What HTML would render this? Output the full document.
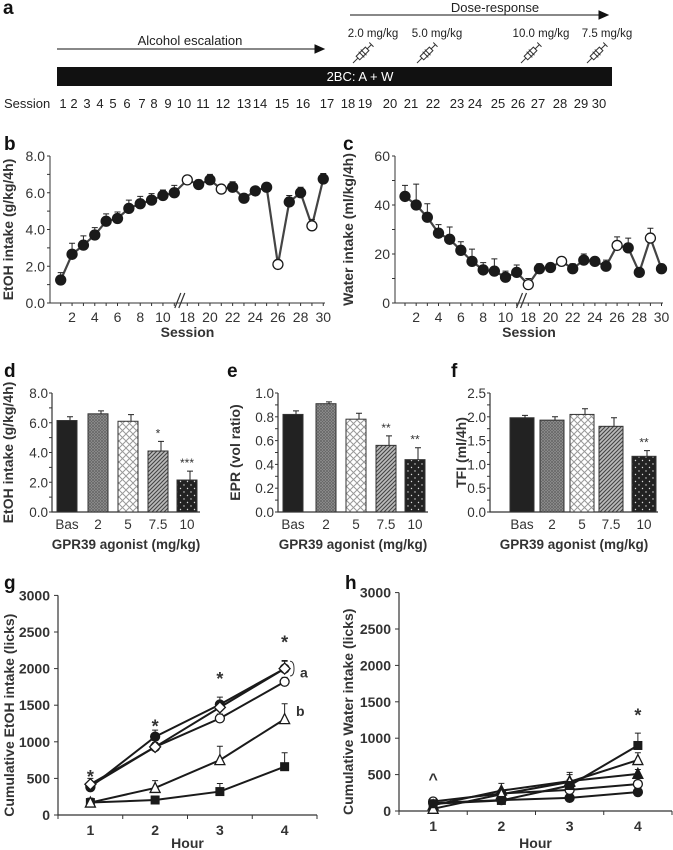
<!DOCTYPE html>
<html><head><meta charset="utf-8">
<style>
html,body{margin:0;padding:0;background:#fff;}
svg{display:block;font-family:"Liberation Sans",Arial,sans-serif;}
.t{font-size:12.5px;fill:#222;}
.b{font-weight:bold;}
</style></head>
<body>
<svg id="fig" width="673" height="850" viewBox="0 0 673 850">
<defs>
<pattern id="pGray" width="3" height="3" patternUnits="userSpaceOnUse"><rect width="3" height="3" fill="#9a9a9a"/><path d="M0 0L3 3M3 0L0 3" stroke="#666" stroke-width="0.8"/></pattern>
<pattern id="pDiamond" width="7" height="7" patternUnits="userSpaceOnUse"><rect width="7" height="7" fill="#fff"/><path d="M0 0L7 7M7 0L0 7" stroke="#999" stroke-width="1"/></pattern>
<pattern id="pHatch" width="4" height="4" patternUnits="userSpaceOnUse"><rect width="4" height="4" fill="#bbb"/><path d="M0 4L4 0M-1 1L1 -1M3 5L5 3" stroke="#444" stroke-width="1.1"/></pattern>
<pattern id="pDots" width="7" height="7" patternUnits="userSpaceOnUse"><rect width="7" height="7" fill="#222"/><circle cx="2" cy="2" r="0.7" fill="#ddd"/><circle cx="5.5" cy="5.5" r="0.7" fill="#ddd"/></pattern>
</defs>
<g id="root"></g>
</svg>
<script>
// ---------- Panel a data ----------
const sessionLabels = ["1","2","3","4","5","6","7","8","9","10","11","12","13","14","15","16","17","18","19","20","21","22","23","24","25","26","27","28","29","30"];
const sessionX = [63,74,87,100,113,127,142,154,168,184,203,223,244,260,282,303,327,348,365,390,411,433,457,475,498,518,538,560,581,599];
const doseLabels = ["2.0 mg/kg","5.0 mg/kg","10.0 mg/kg","7.5 mg/kg"];
const doseLabelX = [373,437,541,607];

// ---------- Panel b data ----------
const bSessions = [1,2,3,4,5,6,7,8,9,10,11,18,19,20,21,22,23,24,25,26,27,28,29,30];
const bValues = [1.25,2.65,3.15,3.7,4.45,4.6,5.15,5.4,5.6,5.85,6.0,6.7,6.45,6.7,6.2,6.3,5.7,6.1,6.3,2.1,5.5,6.0,4.2,6.75];
const bErrors = [0.4,0.6,0.5,0.4,0.4,0.35,0.45,0.4,0.35,0.3,0.4,0.15,0.25,0.3,0.15,0.3,0.15,0.2,0.15,0.25,0.35,0.3,0.35,0.3];
const bOpen = [18,21,26,29];
const bTicks = [0,2,4,6,8];
const bTickLabels = ["0.0","2.0","4.0","6.0","8.0"];
const bXTicks = [2,4,6,8,10,18,20,22,24,26,28,30];

// ---------- Panel c data ----------
const cValues = [43.5,40,35,28.5,26,21.5,17,13.5,13,10.5,12.5,7.5,14,14.5,17,14,17.5,17,15,23.5,22.5,12.5,26.5,14];
const cErrors = [4.5,8.5,5.5,3.5,5,3.5,5,3,5,2.5,3,2.5,2,1,1.5,2,2.5,1,2.5,3.5,4,1.5,4,1];
const cTicks = [0,20,40,60];

// ---------- Panels d,e,f data ----------
const doseCats = ["Bas","2","5","7.5","10"];
const dValues = [6.15,6.6,6.1,4.1,2.15];
const dErrors = [0.25,0.2,0.45,0.65,0.6];
const dStars = ["","","","*","***"];
const eValues = [0.82,0.91,0.78,0.56,0.44];
const eErrors = [0.03,0.015,0.05,0.08,0.1];
const eStars = ["","","","**","**"];
const fValues = [1.98,1.93,2.05,1.8,1.17];
const fErrors = [0.05,0.07,0.12,0.18,0.12];
const fStars = ["","","","","**"];

// ---------- Panels g,h data ----------
const hours = ["1","2","3","4"];
const gTicks = [0,500,1000,1500,2000,2500,3000];
const gFilledCircle = [380,1070,1510,2000];
const gFilledCircleErr = [50,90,100,110];
const gOpenDiamond = [420,930,1470,2000];
const gOpenDiamondErr = [80,60,80,100];
const gOpenCircle = [400,930,1320,1820];
const gOpenCircleErr = [40,50,60,60];
const gOpenTriangle = [170,370,750,1310];
const gOpenTriangleErr = [60,100,190,210];
const gFilledSquare = [170,205,320,660];
const gFilledSquareErr = [50,30,110,190];
const gStarsY = [560,1250,1900,2400];

const hFilledSquare = [100,145,350,900];
const hFilledSquareErr = [30,40,80,170];
const hOpenTriangle = [30,230,400,700];
const hOpenTriangleErr = [20,60,130,100];
const hFilledTriangle = [80,280,410,510];
const hFilledTriangleErr = [30,100,90,60];
const hOpenCircle = [130,240,290,370];
const hOpenCircleErr = [30,40,50,40];
const hFilledCircle = [110,150,180,260];
const hFilledCircleErr = [20,20,30,30];

const NS = "http://www.w3.org/2000/svg";
const root = document.getElementById("root");
function E(tag, attrs, parent){
  const el = document.createElementNS(NS, tag);
  for (const k in attrs) el.setAttribute(k, attrs[k]);
  (parent||root).appendChild(el);
  return el;
}
function T(x,y,txt,cls,anchor,parent){
  const el = E("text",{x:x,y:y,"class":cls||"t","text-anchor":anchor||"start"},parent);
  el.textContent = txt;
  return el;
}
function letter(x,y,s){
  const el = T(x,y,s,"t b","start");
  el.setAttribute("style","font-size:19px;fill:#111");
  
  
}

// ================= Panel a =================
letter(3,14,"a");
(function(){
  const g = E("g",{});
  
  
  let t = T(495,12,"Dose-response","t","middle",g);
  t.setAttribute("style","font-size:13px");
  
  
  let ar = E("path",{d:"M350 15 L607 15 M599 11 L608 15 L599 19 Z",stroke:"#111","stroke-width":1,fill:"#111"},g);
  
  
  t = T(190,45,"Alcohol escalation","t","middle",g);
  t.setAttribute("style","font-size:13px");
  
  
  ar = E("path",{d:"M57 49 L323 49 M315 45 L324 49 L315 53 Z",stroke:"#111","stroke-width":1,fill:"#111"},g);
  
  
  for (let i=0;i<doseLabels.length;i++){
    const sx = doseLabelX[i];
    const lab = T(sx, 37, doseLabels[i], "t", "middle", g);
    lab.setAttribute("style","font-size:11.5px");
    
    
    const syr = E("g",{transform:"translate("+(sx-20)+",63) rotate(-45)",stroke:"#333",fill:"none","stroke-width":1},g);
    
    
    E("path",{d:"M0 0 L7 0 M7 -2.5 L20 -2.5 L20 2.5 L7 2.5 Z M20 0 L26 0 M26 -3 L26 3 M12 -4 L12 4 M15 -4 L15 4"},syr);
  }
  const bar = E("rect",{x:57,y:67,width:555,height:19,fill:"#111"},g);
  
  
  t = T(360,81,"2BC: A + W","t","middle",g);
  t.setAttribute("style","fill:#fff;font-size:13px");
  
  
  t = T(4,108,"Session","t","start",g);
  t.setAttribute("style","font-size:13px");
  
  
  for (let i=0;i<sessionLabels.length;i++){
    const s = T(sessionX[i],108,sessionLabels[i],"t","middle",g);
    s.setAttribute("style","font-size:13px");
    
    
  }
})();

// ================= helpers for line panels =================
function marker(g,type,x,y,r){
  let el;
  if (type==="filledCircle"||type==="openCircle"){
    el = E("circle",{cx:x,cy:y,r:r,fill:type==="filledCircle"?"#1a1a1a":"#fff",stroke:"#1a1a1a","stroke-width":1.3},g);
  } else if (type==="openDiamond"){
    el = E("path",{d:`M${x} ${y-r-1}L${x+r+1} ${y}L${x} ${y+r+1}L${x-r-1} ${y}Z`,fill:"#fff",stroke:"#1a1a1a","stroke-width":1.3},g);
  } else if (type==="filledSquare"){
    el = E("rect",{x:x-r,y:y-r,width:2*r,height:2*r,fill:"#1a1a1a"},g);
  } else {
    el = E("path",{d:`M${x} ${y-r-1}L${x+r+0.5} ${y+r}L${x-r-0.5} ${y+r}Z`,fill:type==="filledTriangle"?"#1a1a1a":"#fff",stroke:"#1a1a1a","stroke-width":1.3},g);
  }
  
  
}
function errBar(g,x,y1,y2){
  const e = E("path",{d:`M${x} ${y1}L${x} ${y2}M${x-3} ${y2}L${x+3} ${y2}`,stroke:"#222","stroke-width":1},g);
  
  
}

// ================= Panels b & c =================
function sessionPanel(name, x0, x1, y0, yTop, vmax, xs, vals, errs, ticks, tickLabs, minorStep, ytitle, titleX){
  const g = E("g",{});
  
  
  const ys = v => y0 - (v/vmax)*(y0-yTop);
  const ax = E("path",{d:`M${x0} ${yTop}L${x0} ${y0}L${x1} ${y0}`,stroke:"#333",fill:"none","stroke-width":1},g);
  
  
  for (let v=0; v<=vmax+1e-9; v+=minorStep){
    const tk = E("line",{x1:x0-3,x2:x0,y1:ys(v),y2:ys(v),stroke:"#333"},g);
    
    
  }
  for (let i=0;i<ticks.length;i++){
    const lb = T(x0-5, ys(ticks[i])+5, tickLabs[i], "t", "end", g);
    lb.setAttribute("style","font-size:14px;fill:#333");
    
    
  }
  const allS = [1,2,3,4,5,6,7,8,9,10,11,18,19,20,21,22,23,24,25,26,27,28,29,30];
  for (const s of allS){
    const tk = E("line",{x1:xs(s),x2:xs(s),y1:y0,y2:y0+3,stroke:"#333"},g);
    
    
  }
  for (const s of bXTicks){
    const lb = T(xs(s), y0+19, String(s), "t", "middle", g);
    lb.setAttribute("style","font-size:14px;fill:#333");
    
    
  }
  const bx = (xs(11)+xs(18))/2;
  const br = E("path",{d:`M${bx-6} ${y0+5}L${bx} ${y0-10}M${bx-2} ${y0+5}L${bx+4} ${y0-10}`,stroke:"#333","stroke-width":1.2},g);
  
  
  let st = T((x0+x1)/2, y0+34, "Session", "t b", "middle", g);
  st.setAttribute("style","font-size:14px;fill:#333");
  
  
  st = T(0,0,ytitle,"t b","middle",g);
  st.setAttribute("transform",`translate(${titleX},${(y0+yTop)/2}) rotate(-90)`);
  st.setAttribute("style","font-size:14px;fill:#333");
  
  
  let d = "";
  for (let i=0;i<bSessions.length;i++){ d += (i?"L":"M")+xs(bSessions[i])+" "+ys(vals[i]); }
  const ln = E("path",{d:d,stroke:"#444",fill:"none","stroke-width":2.2},g);
  
  
  for (let i=0;i<bSessions.length;i++){
    errBar(g, xs(bSessions[i]), ys(vals[i]), ys(vals[i]+errs[i]));
  }
  for (let i=0;i<bSessions.length;i++){
    const open = bOpen.indexOf(bSessions[i])>=0;
    marker(g, open?"openCircle":"filledCircle", xs(bSessions[i]), ys(vals[i]), 5);
  }
}
letter(4,150,"b");
sessionPanel("ethanol-intake-session-chart",50,325,303,156,8,
  s => s<=11 ? 60.7+(s-1)*11.36 : 187.3+(s-18)*11.33,
  bValues,bErrors,bTicks,bTickLabels,1,"EtOH intake (g/kg/4h)",13);
letter(343,150,"c");
sessionPanel("water-intake-session-chart",395,663,303,156,60,
  s => s<=11 ? 405+(s-1)*11.17 : 528.3+(s-18)*11.1,
  cValues,cErrors,cTicks,cTicks.map(String),10,"Water intake (ml/kg/4h)",353);

// ================= Panels d,e,f =================
const barFills = ["#222","url(#pGray)","url(#pDiamond)","url(#pHatch)","url(#pDots)"];
function barPanel(name, x0, x1, barX, barW, vmax, step, minorStep, decimals, vals, errs, stars, ytitle, titleX){
  const y0 = 512, yTop = 393;
  const g = E("g",{});
  
  
  const ys = v => y0 - (v/vmax)*(y0-yTop);
  const ax = E("path",{d:`M${x0} ${yTop}L${x0} ${y0}L${x1} ${y0}`,stroke:"#333",fill:"none","stroke-width":1.2},g);
  
  
  for (let v=0; v<=vmax+1e-9; v+=minorStep){
    const tk = E("line",{x1:x0-3,x2:x0,y1:ys(v),y2:ys(v),stroke:"#333"},g);
    
    
  }
  for (let v=0; v<=vmax+1e-9; v+=step){
    const lb = T(x0-4, ys(v)+5, v.toFixed(decimals), "t", "end", g);
    lb.setAttribute("style","font-size:13.5px;fill:#333");
    
    
  }
  for (let i=0;i<doseCats.length;i++){
    const bx = barX[i];
    const r = E("rect",{x:bx,y:ys(vals[i]),width:barW,height:y0-ys(vals[i]),fill:barFills[i],stroke:"#333","stroke-width":1},g);
    
    
    errBar(g, bx+barW/2+3, ys(vals[i]), ys(vals[i]+errs[i]));
    if (stars[i]){
      const s = T(bx+barW/2, ys(vals[i]+errs[i])-4, stars[i], "t", "middle", g);
      s.setAttribute("style","font-size:12px;fill:#333");
      
      
    }
    const lb = T(bx+barW/2, 529, doseCats[i], "t", "middle", g);
    lb.setAttribute("style","font-size:13.5px;fill:#333");
    
    
  }
  let st = T((x0+x1)/2, 549, "GPR39 agonist (mg/kg)", "t b", "middle", g);
  st.setAttribute("style","font-size:13.5px;fill:#333");
  
  
  st = T(0,0,ytitle,"t b","middle",g);
  st.setAttribute("transform",`translate(${titleX},${(y0+yTop)/2}) rotate(-90)`);
  st.setAttribute("style","font-size:14px;fill:#333");
  
  
}
letter(4,377,"d");
barPanel("ethanol-intake-dose-bars",52,200,[57,88,118,148,177],20,8,2,1,1,dValues,dErrors,dStars,"EtOH intake (g/kg/4h)",13);
letter(227,377,"e");
barPanel("preference-ratio-dose-bars",278,428,[283,316,346,376,405],20,1,0.2,0.1,1,eValues,eErrors,eStars,"EPR (vol ratio)",240);
letter(451,377,"f");
barPanel("total-fluid-intake-dose-bars",490,658,[510,540,570,599,632],24,2.5,0.5,0.25,1,fValues,fErrors,fStars,"TFI (ml/4h)",466);

// ================= Panels g,h =================
function licksPanel(name, x0, x1, y0, per500, series, ytitle, titleX){
  const g = E("g",{});
  
  
  const ys = v => y0 - v/500*per500;
  const cw = (x1-x0)/4;
  const xs = i => x0 + cw*(i+0.5);
  const ax = E("path",{d:`M${x0} ${ys(3000)}L${x0} ${y0}L${x1} ${y0}`,stroke:"#333",fill:"none","stroke-width":1.2},g);
  
  
  for (const v of gTicks){
    const tk = E("line",{x1:x0-4,x2:x0,y1:ys(v),y2:ys(v),stroke:"#333"},g);
    
    
    const lb = T(x0-8, ys(v)+5, String(v), "t b", "end", g);
    lb.setAttribute("style","font-size:14px;fill:#333");
    
    
  }
  for (let i=0;i<=4;i++){
    const tk = E("line",{x1:x0+cw*i,x2:x0+cw*i,y1:y0,y2:y0+4,stroke:"#333"},g);
    
    
  }
  for (let i=0;i<hours.length;i++){
    const lb = T(xs(i), y0+20, hours[i], "t b", "middle", g);
    lb.setAttribute("style","font-size:14px;fill:#333");
    
    
  }
  let st = T((x0+x1)/2, 848, "Hour", "t b", "middle", g);
  st.setAttribute("style","font-size:14px;fill:#333");
  
  
  st = T(0,0,ytitle,"t b","middle",g);
  st.setAttribute("transform",`translate(${titleX},${(y0+ys(3000))/2+10}) rotate(-90)`);
  st.setAttribute("style","font-size:14px;fill:#333");
  
  
  for (const s of series){
    let d = "";
    for (let i=0;i<s.v.length;i++) d += (i?"L":"M")+xs(i)+" "+ys(s.v[i]);
    const ln = E("path",{d:d,stroke:"#1a1a1a",fill:"none","stroke-width":2},g);
    
    
    for (let i=0;i<s.v.length;i++) errBar(g, xs(i), ys(s.v[i]), ys(s.v[i]+s.e[i]));
  }
  for (const s of series){
    for (let i=0;i<s.v.length;i++) marker(g, s.type, xs(i), ys(s.v[i]), 4.5);
  }
  return {g:g, xs:xs, ys:ys};
}
letter(4,589,"g");
const G = licksPanel("cumulative-ethanol-licks-chart",58,317,815,36.6,[
  {type:"filledSquare",v:gFilledSquare,e:gFilledSquareErr},
  {type:"openTriangle",v:gOpenTriangle,e:gOpenTriangleErr},
  {type:"openCircle",v:gOpenCircle,e:gOpenCircleErr},
  {type:"filledCircle",v:gFilledCircle,e:gFilledCircleErr},
  {type:"openDiamond",v:gOpenDiamond,e:gOpenDiamondErr}
],"Cumulative EtOH intake (licks)",14);
for (let i=0;i<hours.length;i++){
  const s = T(G.xs(i), G.ys(gStarsY[i])+9, "*", "t b", "middle", G.g);
  s.setAttribute("style","font-size:18px;fill:#333");
  
  
}
(function(){
  const bk = E("path",{d:`M290 ${G.ys(2100)}Q294 ${G.ys(2100)} 294 ${G.ys(2000)}Q294 ${G.ys(1900)} 290 ${G.ys(1900)}`,stroke:"#333",fill:"none"},G.g);
  
  
  let a = T(300, G.ys(1950)+5, "a", "t b", "start", G.g);
  a.setAttribute("style","font-size:14px;fill:#333");
  
  
  a = T(296, G.ys(1420)+5, "b", "t b", "start", G.g);
  a.setAttribute("style","font-size:14px;fill:#333");
  
  
})();
letter(345,589,"h");
const H = licksPanel("cumulative-water-licks-chart",399,672,811,36.4,[
  {type:"filledCircle",v:hFilledCircle,e:hFilledCircleErr},
  {type:"openCircle",v:hOpenCircle,e:hOpenCircleErr},
  {type:"filledTriangle",v:hFilledTriangle,e:hFilledTriangleErr},
  {type:"openTriangle",v:hOpenTriangle,e:hOpenTriangleErr},
  {type:"filledSquare",v:hFilledSquare,e:hFilledSquareErr}
],"Cumulative Water intake (licks)",353);
(function(){
  let s = T(H.xs(0), H.ys(500)+10, "^", "t b", "middle", H.g);
  s.setAttribute("style","font-size:16px;fill:#333");
  
  
  s = T(H.xs(3), H.ys(1350)+9, "*", "t b", "middle", H.g);
  s.setAttribute("style","font-size:18px;fill:#333");
  
  
})();
</script>
</body></html>
